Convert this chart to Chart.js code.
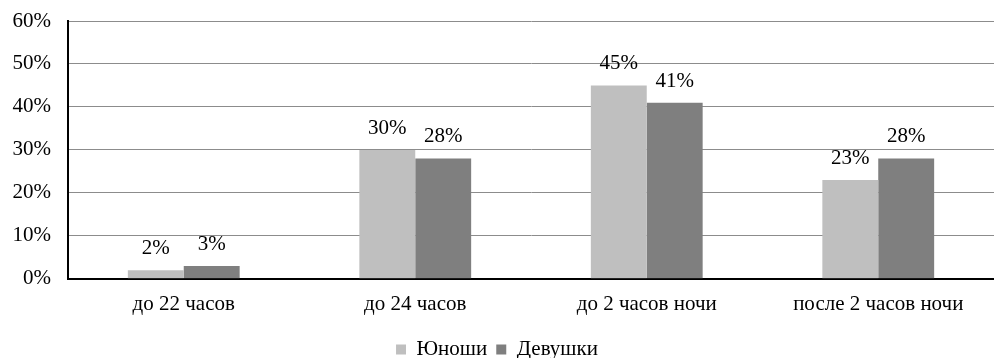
<!DOCTYPE html>
<html>
<head>
<meta charset="utf-8">
<script src="https://cdn.jsdelivr.net/npm/chart.js@4/dist/chart.umd.min.js"></script>
<style>
  html, body { margin: 0; padding: 0; background: #fff; overflow: hidden; }
  #wrap { width: 994px; height: 370px; position: relative; }
</style>
</head>
<body>
<div id="wrap"><canvas id="c"></canvas></div>
<script>
const categories = ['до 22 часов', 'до 24 часов', 'до 2 часов ночи', 'после 2 часов ночи'];
const seriesNames = ['Юноши', 'Девушки'];
const boys = [2, 30, 45, 23];
const girls = [3, 28, 41, 28];
const yTicks = [0, 10, 20, 30, 40, 50, 60];

const FONT = "'Liberation Serif', serif";
const FONT_SIZE = 21;

// Percentage labels drawn above each bar
const valueLabels = {
  id: 'valueLabels',
  afterDatasetsDraw(chart) {
    const ctx = chart.ctx;
    ctx.save();
    ctx.font = FONT_SIZE + 'px ' + FONT;
    ctx.fillStyle = '#000';
    ctx.textAlign = 'center';
    ctx.textBaseline = 'alphabetic';
    chart.data.datasets.forEach((ds, i) => {
      chart.getDatasetMeta(i).data.forEach((bar, j) => {
        ctx.fillText(ds.data[j] + '%', bar.x, bar.y - 16);
      });
    });
    ctx.restore();
  }
};

new Chart(document.getElementById('c'), {
  type: 'bar',
  data: {
    labels: categories,
    datasets: [
      { label: seriesNames[0], data: boys, backgroundColor: '#bfbfbf' },
      { label: seriesNames[1], data: girls, backgroundColor: '#7f7f7f' }
    ]
  },
  options: {
    responsive: true,
    maintainAspectRatio: false,
    animation: false,
    layout: { padding: { top: 21, right: 0, left: 0, bottom: 0 } },
    datasets: { bar: { barPercentage: 1, categoryPercentage: 0.483 } },
    plugins: {
      legend: {
        position: 'bottom',
        labels: {
          boxWidth: 10, boxHeight: 10, padding: 9,
          color: '#000',
          font: { family: FONT, size: FONT_SIZE }
        }
      },
      tooltip: { enabled: false }
    },
    scales: {
      x: {
        grid: { display: false, drawTicks: false },
        border: { color: '#000', width: 2 },
        ticks: { color: '#000', padding: 13, font: { family: FONT, size: FONT_SIZE } }
      },
      y: {
        min: 0, max: 60,
        afterBuildTicks(axis) { axis.ticks = yTicks.map(v => ({ value: v })); },
        afterFit(axis) { axis.width = 68; axis.paddingTop = 0; axis.paddingBottom = 0; },
        grid: { color: '#8c8c8c', lineWidth: 1, drawTicks: false },
        border: { color: '#000', width: 2 },
        ticks: {
          color: '#000', padding: 17,
          font: { family: FONT, size: FONT_SIZE },
          callback: v => v + '%'
        }
      }
    }
  },
  plugins: [valueLabels]
});
</script>
</body>
</html>
